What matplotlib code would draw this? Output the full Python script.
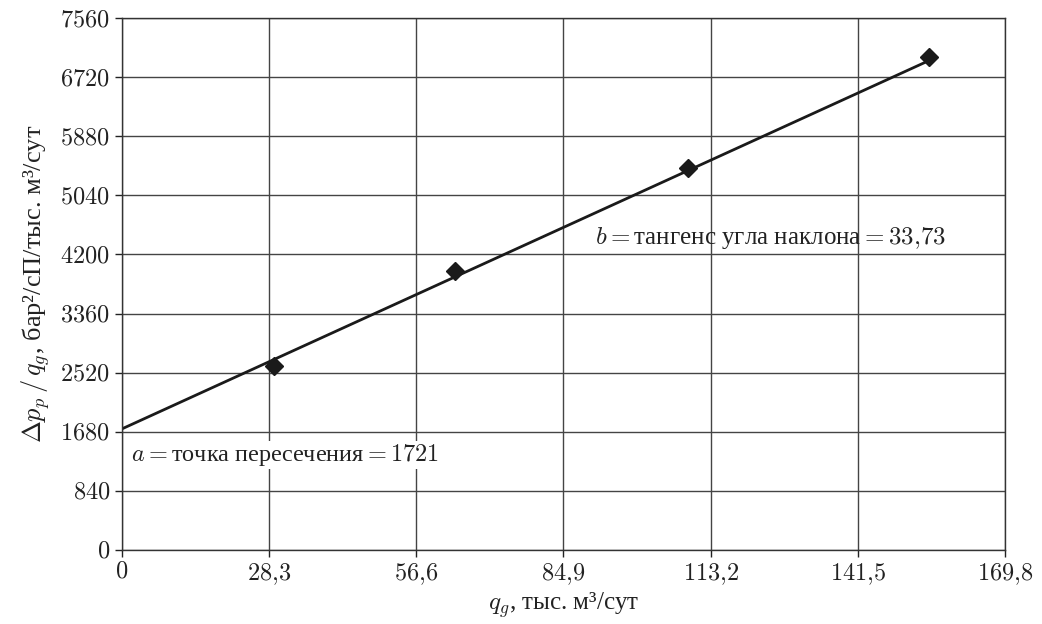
import matplotlib
matplotlib.use("Agg")
import matplotlib.pyplot as plt
import numpy as np

# Data
q_points = [29.2, 64.0, 108.8, 155.2]
dp_points = [2615, 3965, 5428, 7006]
intercept = 1721
slope = 33.73
x_ticks = [0, 28.3, 56.6, 84.9, 113.2, 141.5, 169.8]
x_tick_labels = ["0", "28,3", "56,6", "84,9", "113,2", "141,5", "169,8"]
y_ticks = [0, 840, 1680, 2520, 3360, 4200, 5040, 5880, 6720, 7560]
y_tick_labels = [str(v) for v in y_ticks]

plt.rcParams['mathtext.fontset'] = 'cm'
plt.rcParams['font.family'] = ['Liberation Serif', 'DejaVu Serif']

fig = plt.figure(figsize=(10.42, 6.24), dpi=100)
ax = fig.add_axes([0.117, 0.1186, 0.8475, 0.8525])

ax.set_xlim(x_ticks[0], x_ticks[-1])
ax.set_ylim(y_ticks[0], y_ticks[-1])
ax.set_xticks(x_ticks)
ax.set_xticklabels(["$" + t.replace(",", "{,}") + "$" for t in x_tick_labels])
ax.set_yticks(y_ticks)
ax.set_yticklabels(["$" + t + "$" for t in y_tick_labels])
ax.grid(True, color='#444444', linewidth=1.0)
ax.set_axisbelow(True)
for s in ax.spines.values():
    s.set_color('#333333')
    s.set_linewidth(1.0)
ax.tick_params(direction='out', length=5, width=1, labelsize=17.5, colors='#222222')

xl = np.array([0, q_points[-1]])
ax.plot(xl, intercept + slope * xl, color='#1a1a1a', linewidth=2)
ax.plot(q_points, dp_points, linestyle='none', marker='D', markersize=9,
        color='#1a1a1a')

ax.text(1.7, 1350, r"$a=$точка пересечения$=1721$", fontsize=17.5,
        va='center', ha='left', color='#222222',
        bbox=dict(facecolor='white', edgecolor='none', pad=1))
ax.text(91.0, 4434, r"$b=$тангенс угла наклона$=33{,}73$", fontsize=18,
        va='center', ha='left', color='#222222')

ax.set_xlabel(r"$q_g$, тыс. м³/сут", fontsize=18, color='#222222', labelpad=2)
ax.set_ylabel(r"$\Delta p_p\,/\,q_g$, бар²/сП/тыс. м³/сут", fontsize=19,
              color='#222222', labelpad=6)

fig.savefig("out.png", dpi=100)
